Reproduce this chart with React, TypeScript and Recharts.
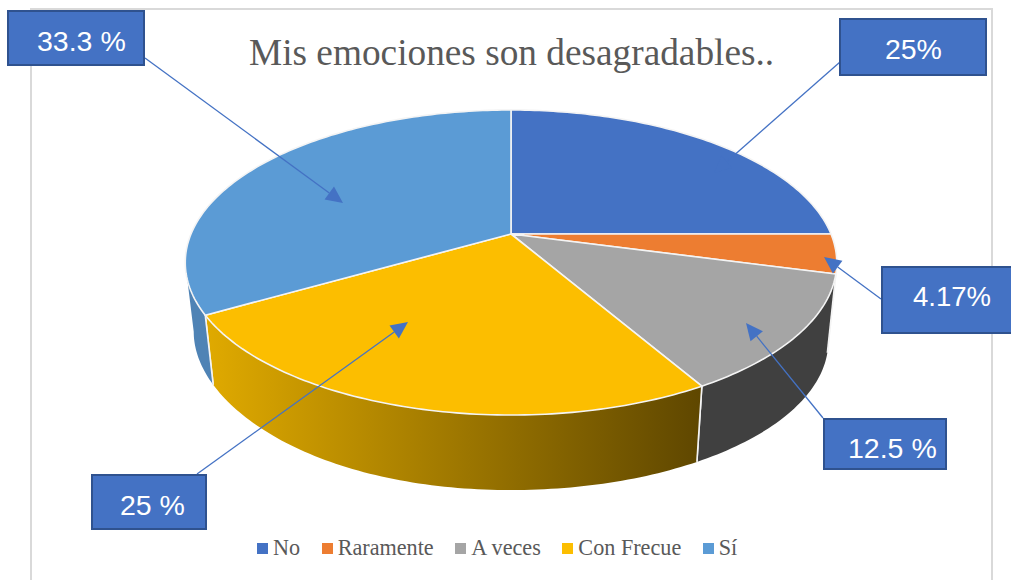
import { PieChart, Pie, Legend } from 'recharts';

const categories = ['No', 'Raramente', 'A veces', 'Con Frecue', 'Sí'];
const shares = [25, 4.17, 12.5, 25, 33.33];
const shareLabels = ['25 %', '4.17 %', '12.5 %', '25 %', '33.3 %'];
const sliceColors = ['#4472c4', '#ed7d31', '#a5a5a5', '#fcbe00', '#5b9bd5'];
const wallColors = ['#2f528f', '#a85a20', '#404040', 'url(#wallGold)', '#4f83b5'];

const tableData = categories.map((name, i) => ({
  name,
  value: shares[i],
  fill: sliceColors[i],
  wall: wallColors[i],
}));

// callout layout, same order as the categories
const callouts = [
  { box: [839, 18, 148, 58], textX: 885, baseline: 59, size: 28.5, wordSpacing: -8, from: [840, 62], tip: [714, 173] },
  { box: [881, 266, 132, 68], textX: 913, baseline: 306, size: 27.5, wordSpacing: -7.6, from: [881, 299], tip: [824, 257] },
  { box: [823, 418, 124, 52], textX: 848, baseline: 458, size: 28.5, wordSpacing: 0, from: [823, 418], tip: [746, 323] },
  { box: [91, 474, 116, 56], textX: 120, baseline: 515, size: 28.5, wordSpacing: 0, from: [197, 474], tip: [408, 322] },
  { box: [7, 10, 138, 56], textX: 37, baseline: 51, size: 28.5, wordSpacing: 0, from: [145, 58], tip: [343, 203] },
];

// the flat pie is tipped back: a circle seen in perspective
const FLATTEN = 0.46;
const PERSPECTIVE = 0.187;
const WALL_DROP = 79.7;
const BOTTOM_SCALE = 0.974;
const SILHOUETTE = (Math.asin(PERSPECTIVE) * 180) / Math.PI;

const project = (deg: number, cx: number, cy: number, r: number, bottom = false) => {
  const a = (deg * Math.PI) / 180;
  const s = 1 / (1 + PERSPECTIVE * Math.sin(a));
  const k = bottom ? BOTTOM_SCALE : 1;
  const x = cx + k * r * Math.cos(a) * s;
  let y = cy + (bottom ? WALL_DROP : 0) - k * r * FLATTEN * Math.sin(a) * s;
  // the lower rim sits a little higher on the left in the picture
  if (bottom && x < cx) y -= 8 * Math.pow((cx - x) / 298, 3);
  return [x, y];
};

const arc = (from: number, to: number, cx: number, cy: number, r: number, bottom = false) => {
  const steps = Math.max(2, Math.ceil(Math.abs(from - to)));
  const pts = [];
  for (let i = 0; i <= steps; i++) {
    pts.push(project(from + ((to - from) * i) / steps, cx, cy, r, bottom));
  }
  return pts;
};

const toPath = (pts: number[][]) =>
  pts.map((p, i) => `${i ? 'L' : 'M'}${p[0].toFixed(2)} ${p[1].toFixed(2)}`).join(' ') + ' Z';

const TopSlice = (props: any) => {
  const { cx, cy, outerRadius, startAngle, endAngle, fill } = props;
  const pts = [[cx, cy], ...arc(startAngle, endAngle, cx, cy, outerRadius)];
  return <path d={toPath(pts)} fill={fill} stroke="#f4f4f4" strokeWidth={1.6} strokeLinejoin="round" />;
};

const WallSlice = (props: any) => {
  const { cx, cy, outerRadius, startAngle, endAngle, wall } = props;
  const a = Math.min(startAngle, -SILHOUETTE);
  const b = Math.max(endAngle, -180 + SILHOUETTE);
  if (a <= b) return <g />;
  const top = arc(a, b, cx, cy, outerRadius);
  const low = arc(b, a, cx, cy, outerRadius, true);
  const seam = (deg: number) => {
    const p = project(deg, cx, cy, outerRadius);
    const q = project(deg, cx, cy, outerRadius, true);
    return <line x1={p[0]} y1={p[1]} x2={q[0]} y2={q[1]} stroke="#f4f4f4" strokeWidth={1.6} />;
  };
  return (
    <g>
      <path d={toPath([...top, ...low])} fill={wall} />
      {a === startAngle && seam(a)}
      {b === endAngle && seam(b)}
    </g>
  );
};

const Callout = (props: any) => {
  const c = callouts[props.index];
  if (!c) return <g />;
  const [x, y, w, h] = c.box;
  const dx = c.tip[0] - c.from[0];
  const dy = c.tip[1] - c.from[1];
  const len = Math.hypot(dx, dy);
  const ux = dx / len;
  const uy = dy / len;
  const baseX = c.tip[0] - ux * 17;
  const baseY = c.tip[1] - uy * 17;
  const head = [
    [c.tip[0], c.tip[1]],
    [baseX - uy * 8, baseY + ux * 8],
    [baseX + uy * 8, baseY - ux * 8],
  ];
  return (
    <g>
      <line x1={c.from[0]} y1={c.from[1]} x2={baseX} y2={baseY} stroke="#4472c4" strokeWidth={1.3} />
      <polygon points={head.map((p) => p.join(',')).join(' ')} fill="#4472c4" />
      <rect x={x + 1} y={y + 1} width={w - 2} height={h - 2} fill="#4472c4" stroke="#2f528f" strokeWidth={2} />
      <text
        x={c.textX}
        y={c.baseline}
        fill="#fff"
        fontFamily="Liberation Sans"
        fontSize={c.size}
        wordSpacing={c.wordSpacing}
      >
        {shareLabels[props.index]}
      </text>
    </g>
  );
};

const LegendRow = ({ payload }: any) => {
  // both pies report their slices, keep one entry per category
  const items = categories.map((name) => (payload || []).find((p: any) => p.value === name)).filter(Boolean);
  return (
    <div style={{ display: 'flex', alignItems: 'center', fontFamily: 'Liberation Serif', fontSize: 22.2, color: '#595959', whiteSpace: 'nowrap' }}>
      {items.map((item: any) => (
        <span key={item.value} style={{ display: 'flex', alignItems: 'center', marginRight: 21.5 }}>
          <span style={{ width: 11, height: 11, background: item.color, marginRight: 5 }} />
          {item.value}
        </span>
      ))}
    </div>
  );
};

export default function App() {
  return (
    <div style={{ position: 'absolute', left: 0, top: 0, width: 1011, height: 580, overflow: 'hidden', background: '#fff' }}>
      <div style={{ position: 'absolute', left: 30, top: 8, width: 959, height: 600, border: '2px solid #d9d9d9' }} />
      <div style={{ position: 'absolute', left: 0, top: 0 }}>
        <PieChart width={1011} height={580} margin={{ top: 0, right: 0, bottom: 0, left: 0 }}>
          <defs>
            <linearGradient id="wallGold" gradientUnits="userSpaceOnUse" x1={205} y1={0} x2={700} y2={0}>
              <stop offset="0%" stopColor="#e0aa00" />
              <stop offset="100%" stopColor="#5f4700" />
            </linearGradient>
          </defs>
          <text x={249} y={65} fill="#595959" fontFamily="Liberation Serif" fontSize={37.3}>
            Mis emociones son desagradables..
          </text>
          <Pie
            data={tableData}
            dataKey="value"
            nameKey="name"
            cx={511}
            cy={234}
            outerRadius={320}
            startAngle={90}
            endAngle={-270}
            legendType="none"
            shape={WallSlice}
            isAnimationActive={false}
          />
          <Pie
            data={tableData}
            dataKey="value"
            nameKey="name"
            cx={511}
            cy={234}
            outerRadius={320}
            startAngle={90}
            endAngle={-270}
            shape={TopSlice}
            label={Callout}
            labelLine={false}
            isAnimationActive={false}
          />
          <Legend content={LegendRow} itemSorter={null} wrapperStyle={{ left: 257, top: 535, width: 'auto' }} />
        </PieChart>
      </div>
    </div>
  );
}
